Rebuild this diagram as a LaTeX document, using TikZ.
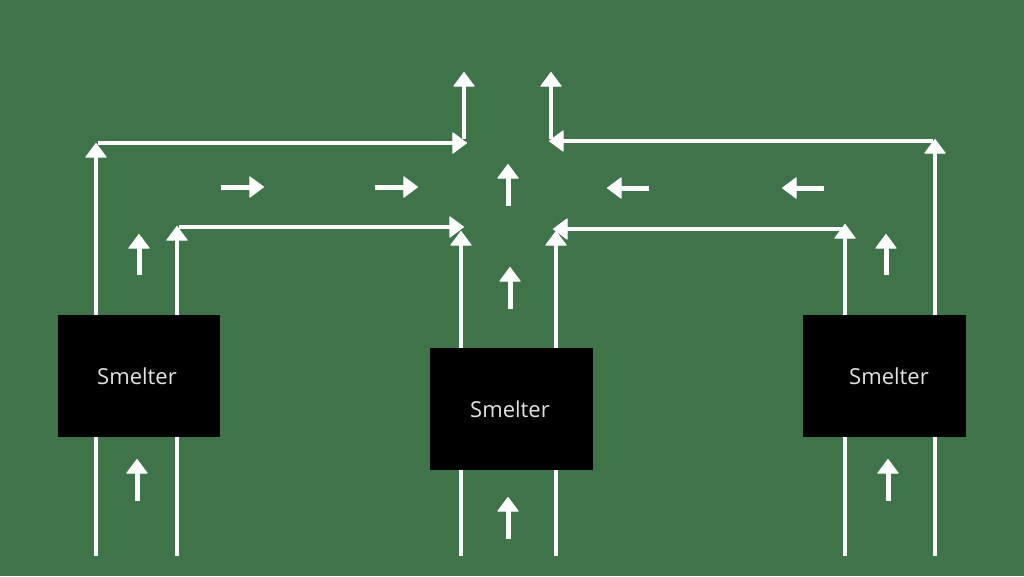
\documentclass[tikz,border=0pt]{standalone}
\usepackage{fontspec}
\setmainfont{Open Sans}
\usetikzlibrary{arrows.meta}
\definecolor{bg}{HTML}{3F734A}
\definecolor{txt}{HTML}{E2E2E2}
\tikzset{
  flow/.style={draw=white, line width=4.5pt, -{Triangle[width=22pt,length=15pt,line width=1pt,round]}},
  cue/.style={flow, line width=5pt},
  smelter/.style={fill=black, draw=none, minimum width=162pt, minimum height=122pt, inner sep=0pt},
  label/.style={text=txt, font=\fontsize{22}{25}\selectfont, inner sep=0pt},
}
\begin{document}
\begin{tikzpicture}[x=1pt,y=-1pt]
\fill[bg] (0,0) rectangle (1024,576);
\useasboundingbox (0,0) rectangle (1024,576);
% coordinates
\coordinate (L1b) at (96,556);   \coordinate (L1t) at (96,143);
\coordinate (L1h) at (98,143);   \coordinate (L1e) at (467,143);
\coordinate (L1u) at (464,139);  \coordinate (L1ut) at (464,72);
\coordinate (L2b) at (177,556);  \coordinate (L2t) at (177,226);
\coordinate (L2h) at (179,227);  \coordinate (L2e) at (464,227);
\coordinate (C1b) at (461,556);  \coordinate (C1t) at (461,231);
\coordinate (C2b) at (556,556);  \coordinate (C2t) at (556,231);
\coordinate (R1b) at (935,556);  \coordinate (R1t) at (935,139);
\coordinate (R1h) at (933,141);  \coordinate (R1e) at (549,141);
\coordinate (R1u) at (551,139);  \coordinate (R1ut) at (551,72);
\coordinate (R2b) at (845,556);  \coordinate (R2t) at (845,224);
\coordinate (R2h) at (843,229);  \coordinate (R2e) at (553,229);
% small arrows
\coordinate (a1s) at (221,187); \coordinate (a1e) at (264,187);
\coordinate (a2s) at (375,187); \coordinate (a2e) at (418,187);
\coordinate (a3s) at (649,188); \coordinate (a3e) at (607,188);
\coordinate (a4s) at (824,188); \coordinate (a4e) at (782,188);
\coordinate (u1s) at (508,206); \coordinate (u1e) at (508,164);
\coordinate (u2s) at (510,309); \coordinate (u2e) at (510,267);
\coordinate (u3s) at (139,275); \coordinate (u3e) at (139,234);
\coordinate (u4s) at (137,501); \coordinate (u4e) at (137,459);
\coordinate (u5s) at (508,539); \coordinate (u5e) at (508,497);
\coordinate (u6s) at (886,275); \coordinate (u6e) at (886,234);
\coordinate (u7s) at (888,501); \coordinate (u7e) at (888,459);
% main flows
\draw[flow] (L1b) -- (L1t);
\draw[flow] (L1h) -- (L1e);
\draw[flow] (L1u) -- (L1ut);
\draw[flow] (L2b) -- (L2t);
\draw[flow] (L2h) -- (L2e);
\draw[flow] (C1b) -- (C1t);
\draw[flow] (C2b) -- (C2t);
\draw[flow] (R1b) -- (R1t);
\draw[flow] (R1h) -- (R1e);
\draw[flow] (R1u) -- (R1ut);
\draw[flow] (R2b) -- (R2t);
\draw[flow] (R2h) -- (R2e);
\foreach \n in {a1,a2,a3,a4,u1,u2,u3,u4,u5,u6,u7}{
  \draw[cue] (\n s) -- (\n e);
}
% smelters
\node[smelter] (sL) at (139,376) {};
\node[smelter, minimum width=163pt] (sC) at (511.5,409) {};
\node[smelter, minimum width=163pt] (sR) at (884.5,376) {};
\node[label] (tL) at (137,376) {Smelter};
\node[label] (tC) at (510,409) {Smelter};
\node[label] (tR) at (889,376) {Smelter};
\end{tikzpicture}
\end{document}
